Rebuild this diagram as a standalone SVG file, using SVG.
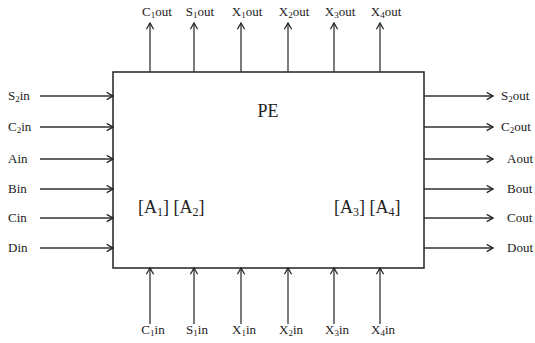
<svg xmlns="http://www.w3.org/2000/svg" width="535" height="343" viewBox="0 0 535 343">
<style>
text{font-family:"Liberation Serif",serif;font-size:13px;fill:#222}
.sub{font-size:9px}
.big{font-size:18px}
.bsub{font-size:12px}
.c line{stroke:#333;stroke-width:1.3;marker-end:url(#ah)}
</style>
<defs>
<marker id="ah" viewBox="0 0 10 10" refX="9" refY="5" markerWidth="9" markerHeight="9" markerUnits="userSpaceOnUse" orient="auto">
<path d="M2,1 L9,5 L2,9" fill="none" stroke="#222" stroke-width="1.4"/>
</marker>
</defs>
<rect width="535" height="343" fill="#fff"/>
<g id="pe">
<rect x="113" y="72" width="311" height="196" fill="#fff" stroke="#222" stroke-width="1.5"/>
<text x="268" y="117" text-anchor="middle" class="big">PE</text>
<text x="138" y="213" class="big">[A<tspan class="bsub" dy="3">1</tspan><tspan dy="-3">] [A</tspan><tspan class="bsub" dy="3">2</tspan><tspan dy="-3">]</tspan></text>
<text x="334" y="213" class="big">[A<tspan class="bsub" dy="3">3</tspan><tspan dy="-3">] [A</tspan><tspan class="bsub" dy="3">4</tspan><tspan dy="-3">]</tspan></text>
</g>
<g id="connectors" class="c">
<line x1="150" y1="72" x2="150" y2="23"/>
<line x1="194" y1="72" x2="194" y2="23"/>
<line x1="241" y1="72" x2="241" y2="23"/>
<line x1="288" y1="72" x2="288" y2="23"/>
<line x1="334" y1="72" x2="334" y2="23"/>
<line x1="380" y1="72" x2="380" y2="23"/>
<line x1="150" y1="324" x2="150" y2="268"/>
<line x1="194" y1="324" x2="194" y2="268"/>
<line x1="241" y1="324" x2="241" y2="268"/>
<line x1="288" y1="324" x2="288" y2="268"/>
<line x1="334" y1="324" x2="334" y2="268"/>
<line x1="380" y1="324" x2="380" y2="268"/>
<line x1="40" y1="96" x2="113" y2="96"/>
<line x1="40" y1="127" x2="113" y2="127"/>
<line x1="40" y1="159" x2="113" y2="159"/>
<line x1="40" y1="189" x2="113" y2="189"/>
<line x1="40" y1="218" x2="113" y2="218"/>
<line x1="40" y1="248" x2="113" y2="248"/>
<line x1="424" y1="96" x2="493" y2="96"/>
<line x1="424" y1="127" x2="493" y2="127"/>
<line x1="424" y1="159" x2="493" y2="159"/>
<line x1="424" y1="189" x2="493" y2="189"/>
<line x1="424" y1="218" x2="493" y2="218"/>
<line x1="424" y1="248" x2="493" y2="248"/>
</g>
<g id="top-labels" text-anchor="middle">
<text x="157" y="16">C<tspan class="sub" dy="2">1</tspan><tspan dy="-2">out</tspan></text>
<text x="200" y="16">S<tspan class="sub" dy="2">1</tspan><tspan dy="-2">out</tspan></text>
<text x="247" y="16">X<tspan class="sub" dy="2">1</tspan><tspan dy="-2">out</tspan></text>
<text x="294" y="16">X<tspan class="sub" dy="2">2</tspan><tspan dy="-2">out</tspan></text>
<text x="340" y="16">X<tspan class="sub" dy="2">3</tspan><tspan dy="-2">out</tspan></text>
<text x="386" y="16">X<tspan class="sub" dy="2">4</tspan><tspan dy="-2">out</tspan></text>
</g>
<g id="bottom-labels" text-anchor="middle">
<text x="153" y="334">C<tspan class="sub" dy="2">1</tspan><tspan dy="-2">in</tspan></text>
<text x="197" y="334">S<tspan class="sub" dy="2">1</tspan><tspan dy="-2">in</tspan></text>
<text x="244" y="334">X<tspan class="sub" dy="2">1</tspan><tspan dy="-2">in</tspan></text>
<text x="291" y="334">X<tspan class="sub" dy="2">2</tspan><tspan dy="-2">in</tspan></text>
<text x="337" y="334">X<tspan class="sub" dy="2">3</tspan><tspan dy="-2">in</tspan></text>
<text x="383" y="334">X<tspan class="sub" dy="2">4</tspan><tspan dy="-2">in</tspan></text>
</g>
<g id="left-labels">
<text x="8" y="100">S<tspan class="sub" dy="2">2</tspan><tspan dy="-2">in</tspan></text>
<text x="8" y="131">C<tspan class="sub" dy="2">2</tspan><tspan dy="-2">in</tspan></text>
<text x="8" y="163">Ain</text>
<text x="8" y="193">Bin</text>
<text x="8" y="222">Cin</text>
<text x="8" y="252">Din</text>
</g>
<g id="right-labels">
<text x="501" y="100">S<tspan class="sub" dy="2">2</tspan><tspan dy="-2">out</tspan></text>
<text x="501" y="131">C<tspan class="sub" dy="2">2</tspan><tspan dy="-2">out</tspan></text>
<text x="507" y="163">Aout</text>
<text x="507" y="193">Bout</text>
<text x="507" y="222">Cout</text>
<text x="507" y="252">Dout</text>
</g>
</svg>
